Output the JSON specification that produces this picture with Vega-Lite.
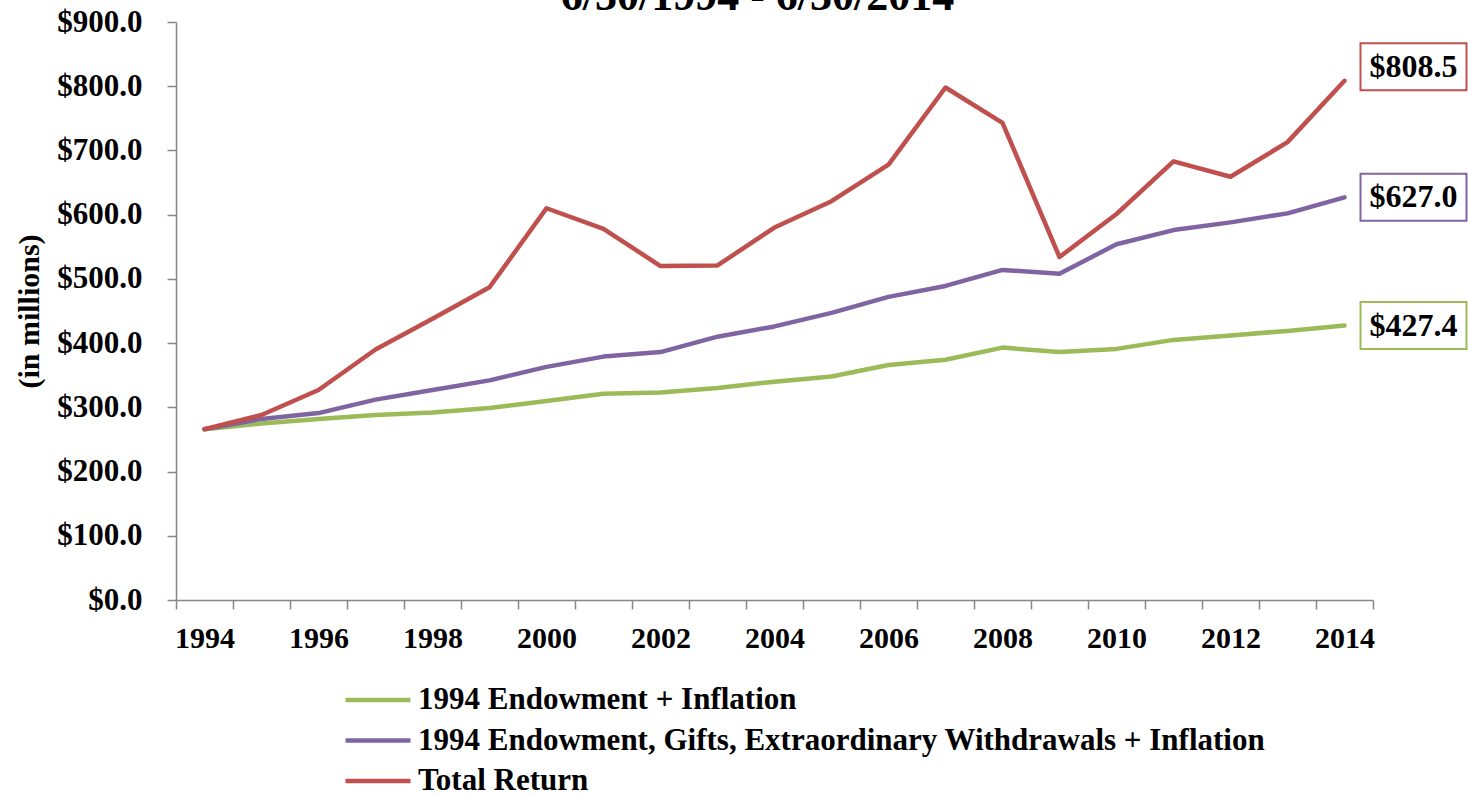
{
  "$schema": "https://vega.github.io/schema/vega-lite/v6.json",
  "width": 1197,
  "height": 578,
  "autosize": {"type": "none"},
  "padding": {"left": 176, "top": 22, "right": 95, "bottom": 195},
  "background": "white",
  "title": {
    "text": "6/30/1994 - 6/30/2014",
    "font": "Liberation Serif",
    "fontSize": 44,
    "fontWeight": "bold",
    "color": "black",
    "anchor": "middle",
    "baseline": "alphabetic",
    "dx": -17,
    "offset": -48
  },
  "config": {"view": {"stroke": null}, "font": "Liberation Serif"},
  "data": {
    "values": [
      {"series": "1994 Endowment + Inflation", "year": 1994, "value": 266},
      {"series": "1994 Endowment + Inflation", "year": 1995, "value": 275},
      {"series": "1994 Endowment + Inflation", "year": 1996, "value": 282},
      {"series": "1994 Endowment + Inflation", "year": 1997, "value": 288},
      {"series": "1994 Endowment + Inflation", "year": 1998, "value": 292},
      {"series": "1994 Endowment + Inflation", "year": 1999, "value": 299},
      {"series": "1994 Endowment + Inflation", "year": 2000, "value": 310},
      {"series": "1994 Endowment + Inflation", "year": 2001, "value": 321},
      {"series": "1994 Endowment + Inflation", "year": 2002, "value": 323},
      {"series": "1994 Endowment + Inflation", "year": 2003, "value": 330},
      {"series": "1994 Endowment + Inflation", "year": 2004, "value": 340},
      {"series": "1994 Endowment + Inflation", "year": 2005, "value": 348},
      {"series": "1994 Endowment + Inflation", "year": 2006, "value": 366},
      {"series": "1994 Endowment + Inflation", "year": 2007, "value": 374},
      {"series": "1994 Endowment + Inflation", "year": 2008, "value": 393},
      {"series": "1994 Endowment + Inflation", "year": 2009, "value": 386},
      {"series": "1994 Endowment + Inflation", "year": 2010, "value": 391},
      {"series": "1994 Endowment + Inflation", "year": 2011, "value": 405},
      {"series": "1994 Endowment + Inflation", "year": 2012, "value": 412},
      {"series": "1994 Endowment + Inflation", "year": 2013, "value": 419},
      {"series": "1994 Endowment + Inflation", "year": 2014, "value": 427.4},
      {"series": "1994 Endowment, Gifts, Extraordinary Withdrawals + Inflation", "year": 1994, "value": 266},
      {"series": "1994 Endowment, Gifts, Extraordinary Withdrawals + Inflation", "year": 1995, "value": 282},
      {"series": "1994 Endowment, Gifts, Extraordinary Withdrawals + Inflation", "year": 1996, "value": 291},
      {"series": "1994 Endowment, Gifts, Extraordinary Withdrawals + Inflation", "year": 1997, "value": 312},
      {"series": "1994 Endowment, Gifts, Extraordinary Withdrawals + Inflation", "year": 1998, "value": 327},
      {"series": "1994 Endowment, Gifts, Extraordinary Withdrawals + Inflation", "year": 1999, "value": 342},
      {"series": "1994 Endowment, Gifts, Extraordinary Withdrawals + Inflation", "year": 2000, "value": 363},
      {"series": "1994 Endowment, Gifts, Extraordinary Withdrawals + Inflation", "year": 2001, "value": 379},
      {"series": "1994 Endowment, Gifts, Extraordinary Withdrawals + Inflation", "year": 2002, "value": 386},
      {"series": "1994 Endowment, Gifts, Extraordinary Withdrawals + Inflation", "year": 2003, "value": 410},
      {"series": "1994 Endowment, Gifts, Extraordinary Withdrawals + Inflation", "year": 2004, "value": 426},
      {"series": "1994 Endowment, Gifts, Extraordinary Withdrawals + Inflation", "year": 2005, "value": 447},
      {"series": "1994 Endowment, Gifts, Extraordinary Withdrawals + Inflation", "year": 2006, "value": 472},
      {"series": "1994 Endowment, Gifts, Extraordinary Withdrawals + Inflation", "year": 2007, "value": 489},
      {"series": "1994 Endowment, Gifts, Extraordinary Withdrawals + Inflation", "year": 2008, "value": 514},
      {"series": "1994 Endowment, Gifts, Extraordinary Withdrawals + Inflation", "year": 2009, "value": 508},
      {"series": "1994 Endowment, Gifts, Extraordinary Withdrawals + Inflation", "year": 2010, "value": 554},
      {"series": "1994 Endowment, Gifts, Extraordinary Withdrawals + Inflation", "year": 2011, "value": 576},
      {"series": "1994 Endowment, Gifts, Extraordinary Withdrawals + Inflation", "year": 2012, "value": 588},
      {"series": "1994 Endowment, Gifts, Extraordinary Withdrawals + Inflation", "year": 2013, "value": 602},
      {"series": "1994 Endowment, Gifts, Extraordinary Withdrawals + Inflation", "year": 2014, "value": 627.0},
      {"series": "Total Return", "year": 1994, "value": 266},
      {"series": "Total Return", "year": 1995, "value": 288},
      {"series": "Total Return", "year": 1996, "value": 327},
      {"series": "Total Return", "year": 1997, "value": 390},
      {"series": "Total Return", "year": 1998, "value": 438},
      {"series": "Total Return", "year": 1999, "value": 487},
      {"series": "Total Return", "year": 2000, "value": 610},
      {"series": "Total Return", "year": 2001, "value": 578},
      {"series": "Total Return", "year": 2002, "value": 520},
      {"series": "Total Return", "year": 2003, "value": 521},
      {"series": "Total Return", "year": 2004, "value": 580},
      {"series": "Total Return", "year": 2005, "value": 621},
      {"series": "Total Return", "year": 2006, "value": 678},
      {"series": "Total Return", "year": 2007, "value": 798},
      {"series": "Total Return", "year": 2008, "value": 743},
      {"series": "Total Return", "year": 2009, "value": 534},
      {"series": "Total Return", "year": 2010, "value": 601},
      {"series": "Total Return", "year": 2011, "value": 683},
      {"series": "Total Return", "year": 2012, "value": 659},
      {"series": "Total Return", "year": 2013, "value": 713},
      {"series": "Total Return", "year": 2014, "value": 808.5}
    ]
  },
  "encoding": {
    "x": {
      "field": "year",
      "type": "ordinal",
      "bandPosition": 0.5,
      "scale": {"type": "band", "paddingInner": 0, "paddingOuter": 0},
      "axis": {
        "title": null,
        "labelAngle": 0,
        "tickBand": "extent",
        "labelExpr": "datum.value % 2 == 0 ? datum.label : ''",
        "labelFont": "Liberation Serif",
        "labelFontSize": 30,
        "labelFontWeight": "bold",
        "labelColor": "black",
        "labelPadding": 14,
        "tickSize": 9,
        "tickColor": "#868686",
        "tickWidth": 1.5,
        "domainColor": "#868686",
        "domainWidth": 1.5,
        "grid": false
      }
    },
    "y": {
      "field": "value",
      "type": "quantitative",
      "scale": {"domain": [0, 900], "nice": false},
      "axis": {
        "title": "(in millions)",
        "titleFont": "Liberation Serif",
        "titleFontSize": 30,
        "titleFontWeight": "bold",
        "titleColor": "black",
        "titlePadding": 12,
        "values": [0, 100, 200, 300, 400, 500, 600, 700, 800, 900],
        "format": "$.1f",
        "labelFont": "Liberation Serif",
        "labelFontSize": 31,
        "labelFontWeight": "bold",
        "labelColor": "black",
        "labelPadding": 25,
        "tickSize": 9,
        "tickColor": "#868686",
        "tickWidth": 1.5,
        "domainColor": "#868686",
        "domainWidth": 1.5,
        "grid": false
      }
    }
  },
  "layer": [
    {
      "mark": {"type": "line", "strokeWidth": 4.5, "strokeJoin": "round", "strokeCap": "round"},
      "encoding": {
        "color": {
          "field": "series",
          "type": "nominal",
          "scale": {
            "domain": ["1994 Endowment + Inflation", "1994 Endowment, Gifts, Extraordinary Withdrawals + Inflation", "Total Return"],
            "range": ["#9BBB59", "#8064A2", "#C0504D"]
          },
          "legend": {
            "title": null,
            "orient": "none",
            "legendX": 167,
            "legendY": 663,
            "symbolType": "stroke",
            "symbolSize": 4225,
            "symbolStrokeWidth": 4.5,
            "clipHeight": 30,
            "rowPadding": 9.5,
            "labelOffset": 5,
            "labelFont": "Liberation Serif",
            "labelFontSize": 31,
            "labelFontWeight": "bold",
            "labelColor": "black",
            "labelLimit": 1200
          }
        }
      }
    },
    {
      "transform": [{"filter": "datum.year == 2014 && datum.series == 'Total Return'"}],
      "mark": {"type": "point", "shape": "M-1,-0.443H1V0.443H-1Z", "size": 11236, "filled": false, "strokeWidth": 2, "opacity": 1, "xOffset": 69, "yOffset": -14},
      "encoding": {
        "stroke": {"field": "series", "type": "nominal", "scale": {"domain": ["1994 Endowment + Inflation", "1994 Endowment, Gifts, Extraordinary Withdrawals + Inflation", "Total Return"], "range": ["#9BBB59", "#8064A2", "#C0504D"]}, "legend": null}
      }
    },
    {
      "transform": [{"filter": "datum.year == 2014 && datum.series != 'Total Return'"}],
      "mark": {"type": "point", "shape": "M-1,-0.443H1V0.443H-1Z", "size": 11236, "filled": false, "strokeWidth": 2, "opacity": 1, "xOffset": 69},
      "encoding": {
        "stroke": {"field": "series", "type": "nominal", "legend": null}
      }
    },
    {
      "transform": [{"filter": "datum.year == 2014 && datum.series == 'Total Return'"}],
      "mark": {"type": "text", "font": "Liberation Serif", "fontSize": 32, "fontWeight": "bold", "color": "black", "align": "center", "baseline": "middle", "dx": 69, "dy": -14},
      "encoding": {"text": {"field": "value", "type": "quantitative", "format": "$.1f"}}
    },
    {
      "transform": [{"filter": "datum.year == 2014 && datum.series != 'Total Return'"}],
      "mark": {"type": "text", "font": "Liberation Serif", "fontSize": 32, "fontWeight": "bold", "color": "black", "align": "center", "baseline": "middle", "dx": 69},
      "encoding": {"text": {"field": "value", "type": "quantitative", "format": "$.1f"}}
    }
  ]
}
